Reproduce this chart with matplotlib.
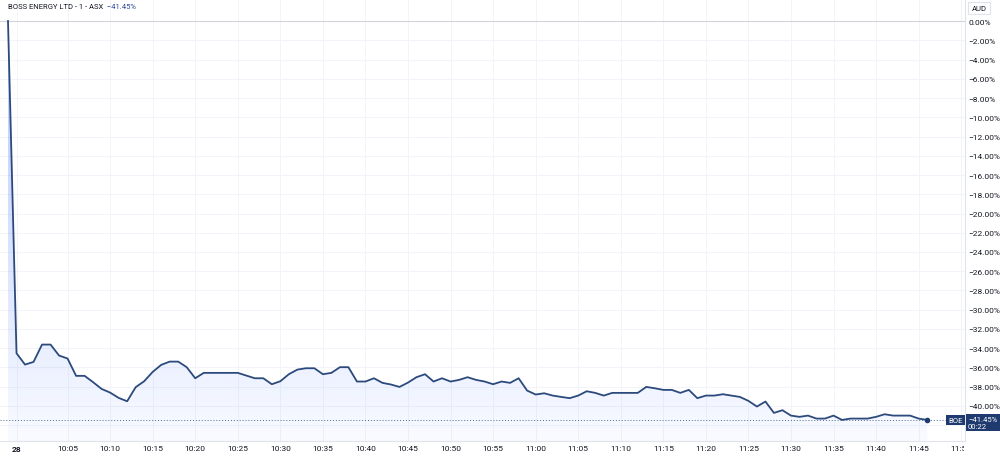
import numpy as np
import pandas as pd
import matplotlib
matplotlib.use("Agg")
import matplotlib.pyplot as plt
import matplotlib.dates as mdates
from matplotlib.patches import PathPatch
from matplotlib.transforms import Bbox, TransformedBbox
from matplotlib.ticker import FuncFormatter

plt.rcParams['font.family'] = ['Roboto', 'DejaVu Sans']

# 数据：BOE 1 分钟涨跌幅 (%)
start_time = "2024-10-28 09:58"
pct_change = [
    0.0,
    -34.52, -35.70, -35.42, -33.62, -33.62, -34.76, -35.07, -36.87, -36.87, -37.53,
    -38.23, -38.61, -39.16, -39.51, -38.05, -37.43, -36.46, -35.73, -35.39, -35.39,
    -35.97,
    -37.12, -36.56, -36.56, -36.56, -36.56, -36.56, -36.84, -37.12, -37.12, -37.74,
    -37.43, -36.70, -36.22, -36.08, -36.08, -36.70, -36.56, -35.97, -35.97, -37.46,
    -37.46, -37.12,
    -37.60, -37.77, -38.02, -37.57, -37.01, -36.70, -37.46, -37.12, -37.46, -37.29,
    -37.01, -37.29, -37.46, -37.74, -37.46, -37.60, -37.12, -38.40, -38.81, -38.68,
    -38.92, -39.06,
    -39.19, -38.92, -38.47, -38.64, -38.92, -38.64, -38.64, -38.64, -38.64, -38.02,
    -38.16, -38.33, -38.33, -38.64, -38.33, -39.19, -38.92, -38.92, -38.78, -38.92,
    -39.06,
    -39.47, -40.06, -39.54, -40.72, -40.44, -41.00, -41.13, -41.00, -41.31, -41.31,
    -41.00, -41.45, -41.31, -41.31, -41.31, -41.13, -40.86, -41.00, -41.00, -41.00,
    -41.31, -41.45,
]
tick_times = ["09:59"] + [f"{h}:{m:02d}" for h in (10, 11) for m in range(0, 60, 5)
                          if not (h == 10 and m == 0)]
tick_times = [t for t in tick_times if "09:59" <= t.zfill(5) <= "11:50"]
tick_labels = ["28"] + tick_times[1:]
y_ticks = list(range(0, -44, -2))

times = pd.date_range(start_time, periods=len(pct_change), freq="min")
x = mdates.date2num(times.to_pydatetime())
vals = np.array(pct_change)
day = start_time[:10]
tick_x = mdates.date2num(pd.to_datetime([f"{day} {t.zfill(5)}" for t in tick_times]).to_pydatetime())

line_color = '#2c4a7c'
grid_color = '#f2f4f9'
one_min = 1 / 1440

fig = plt.figure(figsize=(10, 4.6), dpi=100)
ax = fig.add_axes([0, 18 / 460, 0.965, 442 / 460])

ymin, ymax = -43.64, 2.29
xmin, xmax = x[0] - 0.94 * one_min, x[0] + 112.45 * one_min
ax.set_xlim(xmin, xmax)
ax.set_ylim(ymin, ymax)

# 渐变填充
fill = ax.fill_between(x, vals, ymin, color='none', lw=0)
grad = np.linspace(0.36, 0.03, 256).reshape(-1, 1)
rgba = np.zeros((256, 1, 4))
rgba[..., 0], rgba[..., 1], rgba[..., 2] = 0.16, 0.38, 1.0
rgba[..., 3] = grad
im = ax.imshow(rgba, extent=[xmin, xmax, ymin, ymax], aspect='auto', origin='upper', zorder=1)
clip = PathPatch(fill.get_paths()[0], transform=ax.transData, facecolor='none', edgecolor='none')
ax.add_patch(clip)
im.set_clip_path(clip)

ax.plot(x, vals, color=line_color, lw=1.3, zorder=3)
ax.plot(x[-1], vals[-1], 'o', color='#1e3a6e', ms=3, zorder=4)
ax.axhline(vals[-1], color='#4a6a9a', lw=0.7, ls=(0, (1, 2)), zorder=2)
ax.axhline(0, color='#d1d4dc', lw=0.8, zorder=2)

# 网格和坐标轴
def pct_fmt(v, p):
    if v < -41:
        return ""
    return f"{v:.2f}%".replace("-", "\u2212")

ax.set_yticks(y_ticks)
ax.set_xticks(tick_x)
ax.set_xticklabels(tick_labels)
ax.grid(True, color=grid_color, lw=0.7)
ax.set_axisbelow(True)
ax.yaxis.tick_right()
ax.yaxis.set_major_formatter(FuncFormatter(pct_fmt))
ax.tick_params(axis='y', length=0, pad=2.5, labelsize=6, labelcolor='#131722')
ax.tick_params(axis='x', length=0, pad=3, labelsize=6, labelcolor='#131722')
ax.get_xticklabels()[0].set_fontweight('bold')
for s in ('left', 'top'):
    ax.spines[s].set_visible(False)
for s in ('right', 'bottom'):
    ax.spines[s].set_color('#e0e3eb')
    ax.spines[s].set_linewidth(0.8)

clip_box = TransformedBbox(Bbox([[0, 0], [0.964, 1]]), fig.transFigure)
for lbl in ax.get_xticklabels():
    lbl.set_clip_box(clip_box)
    lbl.set_clip_on(True)

# 标题
t1 = fig.text(0.008, 1 - 7 / 460, "BOSS ENERGY LTD - 1 - ASX", fontsize=5.5,
              color='#131722', va='center', ha='left')
ax.annotate("  \u221241.45%", xy=(1, 0.5), xycoords=t1, fontsize=5.5,
            color='#2c4a9c', va='center', ha='left', annotation_clip=False)

fig.text(0.979, 1 - 9 / 460, "AUD", fontsize=5.5, color='#131722', ha='center', va='center',
         bbox=dict(boxstyle='square,pad=0.4', fc='white', ec='#e0e3eb', lw=0.8))

# 最新价标签
fig.text(0.9555, 1 - 421 / 460, "BOE", fontsize=5.5, color='white', ha='center', va='center',
         bbox=dict(boxstyle='square,pad=0.25', fc='#1e3a6e', ec='none'))
fig.text(0.968, 1 - 423.5 / 460, "\u221241.45%\n00:22", fontsize=5.5, color='white',
         ha='left', va='center', linespacing=1.1,
         bbox=dict(boxstyle='square,pad=0.3', fc='#1e3a6e', ec='none'))

fig.savefig("out.png", dpi=100)
